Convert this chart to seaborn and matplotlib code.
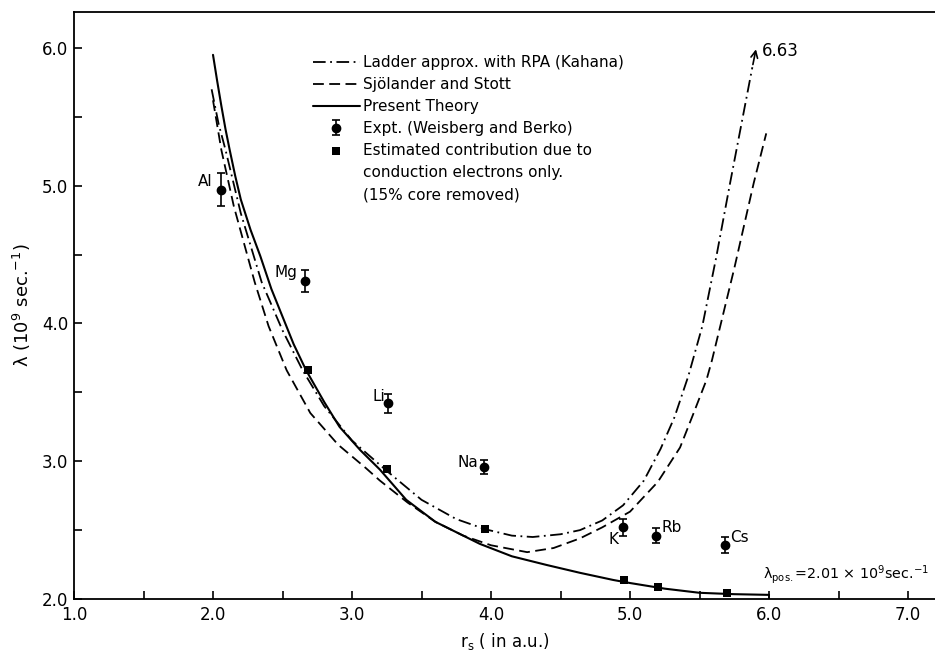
import matplotlib
matplotlib.use("Agg")
import matplotlib.pyplot as plt
from matplotlib.lines import Line2D
from matplotlib.ticker import MultipleLocator, FormatStrFormatter
import seaborn as sns

# --- data ------------------------------------------------------------------
# Present theory (solid)
rs_present = [2.00, 2.03, 2.06, 2.09, 2.12, 2.16, 2.20, 2.27, 2.34, 2.42, 2.50,
              2.58, 2.67, 2.80, 2.91, 3.06, 3.20, 3.39, 3.60, 3.80, 3.92, 4.15,
              4.40, 4.64, 4.88, 5.00, 5.25, 5.50, 5.75, 6.00]
lam_present = [5.95, 5.76, 5.58, 5.41, 5.26, 5.07, 4.90, 4.68, 4.49, 4.25, 4.05,
               3.85, 3.66, 3.43, 3.25, 3.08, 2.94, 2.72, 2.56, 2.46, 2.40, 2.31,
               2.247, 2.19, 2.138, 2.116, 2.075, 2.045, 2.035, 2.03]

# Ladder approx. with RPA (Kahana), dash-dot
rs_kahana = [1.99, 2.04, 2.09, 2.20, 2.35, 2.50, 2.645, 2.80, 3.00, 3.25, 3.50,
             3.75, 3.96, 4.15, 4.30, 4.50, 4.64, 4.80, 4.95, 5.10, 5.22, 5.32,
             5.42, 5.52, 5.62, 5.72, 5.80, 5.88]
lam_kahana = [5.70, 5.45, 5.26, 4.80, 4.30, 3.95, 3.66, 3.40, 3.15, 2.93, 2.72,
              2.58, 2.506, 2.46, 2.45, 2.47, 2.50, 2.57, 2.68, 2.86, 3.09, 3.32,
              3.62, 3.98, 4.48, 5.02, 5.44, 5.86]

# Sjolander and Stott, dashed
rs_stott = [2.00, 2.06, 2.15, 2.30, 2.40, 2.53, 2.70, 2.90, 3.10, 3.20, 3.40,
            3.60, 3.80, 4.00, 4.26, 4.45, 4.64, 4.80, 5.00, 5.20, 5.36, 5.45,
            5.55, 5.59, 5.75, 5.89, 5.98]
lam_stott = [5.62, 5.26, 4.85, 4.30, 3.98, 3.66, 3.35, 3.12, 2.95, 2.86, 2.70,
             2.56, 2.46, 2.39, 2.34, 2.37, 2.44, 2.52, 2.634, 2.85, 3.10, 3.33,
             3.59, 3.735, 4.40, 5.02, 5.38]

# Experiment (Weisberg and Berko)
metals = ["Al", "Mg", "Li", "Na", "K", "Rb", "Cs"]
rs_expt = [2.06, 2.66, 3.26, 3.95, 4.95, 5.19, 5.68]
lam_expt = [4.97, 4.31, 3.42, 2.96, 2.52, 2.46, 2.39]
err_expt = [0.12, 0.08, 0.07, 0.05, 0.06, 0.055, 0.058]

# Conduction-electron contribution (15% core removed)
rs_cond = [2.68, 3.25, 3.96, 4.96, 5.20, 5.70]
lam_cond = [3.66, 2.944, 2.506, 2.137, 2.09, 2.04]

kahana_arrow_tip = (5.91, 6.01)
kahana_end_label = "6.63"

# --- plotting ---------------------------------------------------------------
sns.set_theme(style="ticks", rc={"text.color": "black",
                                 "axes.labelcolor": "black",
                                 "xtick.color": "black",
                                 "ytick.color": "black"})
plt.rcParams["font.family"] = ["DejaVu Sans"]
plt.rcParams["mathtext.fontset"] = "dejavusans"

fig = plt.figure(figsize=(9.35, 6.56), dpi=100)
ax = fig.add_axes([74 / 935, 57 / 656, 861 / 935, 587 / 656])

dashdot = (0, (7, 2.5, 1, 2.5))
dashed = (0, (6, 3))

sns.lineplot(x=rs_kahana, y=lam_kahana, ax=ax, color="black", lw=1.3,
             linestyle=dashdot, sort=False, estimator=None,
             label="Ladder approx. with RPA (Kahana)")
sns.lineplot(x=rs_stott, y=lam_stott, ax=ax, color="black", lw=1.3,
             linestyle=dashed, sort=False, estimator=None,
             label="Sjölander and Stott")
sns.lineplot(x=rs_present, y=lam_present, ax=ax, color="black", lw=1.5,
             sort=False, estimator=None, label="Present Theory")
ax.vlines(rs_present[-1], 2.0, lam_present[-1], color="black", lw=1.2)

ax.errorbar(rs_expt, lam_expt, yerr=err_expt, fmt="o", color="black", ms=6,
            capsize=3, elinewidth=1.2, capthick=1.2,
            label="Expt. (Weisberg and Berko)")
sns.scatterplot(x=rs_cond, y=lam_cond, ax=ax, marker="s", color="black",
                s=40, edgecolor="black", linewidth=0, zorder=5,
                label="Estimated contribution due to")

# arrow and value at the end of the Kahana curve
ax.annotate("", xy=kahana_arrow_tip, xytext=(rs_kahana[-1], lam_kahana[-1]),
            arrowprops=dict(arrowstyle="->", color="black", lw=1.2,
                            mutation_scale=12))
ax.text(kahana_arrow_tip[0] + 0.04, kahana_arrow_tip[1] - 0.03,
        kahana_end_label, fontsize=12, ha="left", va="center")

# element labels
label_style = {
    "Al": ((-6.5, 6), "right"),
    "Mg": ((-5, 6), "right"),
    "Li": ((-2.4, 4.8), "right"),
    "Na": ((-4.3, 2.9), "right"),
    "K": ((-3.4, -8.4), "right"),
    "Rb": ((3.6, 6), "left"),
    "Cs": ((4.1, 5.8), "left"),
}
for name, x, y in zip(metals, rs_expt, lam_expt):
    off, ha = label_style[name]
    ax.annotate(name, (x, y), xytext=off, textcoords="offset points",
                ha=ha, va="center", fontsize=11)

ax.text(5.96, 2.15, r"λ$_{\rm pos.}$=2.01 × 10$^9$sec.$^{-1}$",
        fontsize=10.3, ha="left", va="baseline")

# axes
ax.set_xlim(1.0, 7.194)
ax.set_ylim(2.0, 6.261)
ax.xaxis.set_major_locator(MultipleLocator(1.0))
ax.xaxis.set_minor_locator(MultipleLocator(0.5))
ax.yaxis.set_major_locator(MultipleLocator(1.0))
ax.yaxis.set_minor_locator(MultipleLocator(0.5))
ax.xaxis.set_major_formatter(FormatStrFormatter("%.1f"))
ax.yaxis.set_major_formatter(FormatStrFormatter("%.1f"))
ax.tick_params(which="both", direction="in", length=6, width=1.2,
               color="black", labelsize=12, top=False, right=False)
ax.tick_params(axis="x", pad=5)
ax.tick_params(axis="y", pad=4)
for side in ["left", "bottom", "top"]:
    ax.spines[side].set_color("black")
    ax.spines[side].set_linewidth(1.3)
ax.spines["right"].set_visible(False)

ax.set_xlabel(r"r$_{\rm s}$ ( in a.u.)", fontsize=12)
ax.xaxis.set_label_coords(0.5, -0.054)
ax.set_ylabel(r"λ (10$^9$ sec.$^{-1}$)", fontsize=13)
ax.yaxis.set_label_coords(-0.048, 0.5)

# legend
handles, labels = ax.get_legend_handles_labels()
order = ["Ladder approx. with RPA (Kahana)", "Sjölander and Stott",
         "Present Theory", "Expt. (Weisberg and Berko)",
         "Estimated contribution due to"]
hmap = dict(zip(labels, handles))
blank = Line2D([], [], linestyle="none")
leg_handles = [hmap[k] for k in order] + [blank, blank]
leg_labels = order + ["conduction electrons only.", "(15% core removed)"]
ax.legend(leg_handles, leg_labels, loc="upper left",
          bbox_to_anchor=(313 / 935, 1 - 55 / 656),
          bbox_transform=fig.transFigure, frameon=False, fontsize=11,
          handlelength=3.07, handletextpad=0.2, labelspacing=0.46,
          borderpad=0, borderaxespad=0)

fig.savefig("out.png", dpi=100)
